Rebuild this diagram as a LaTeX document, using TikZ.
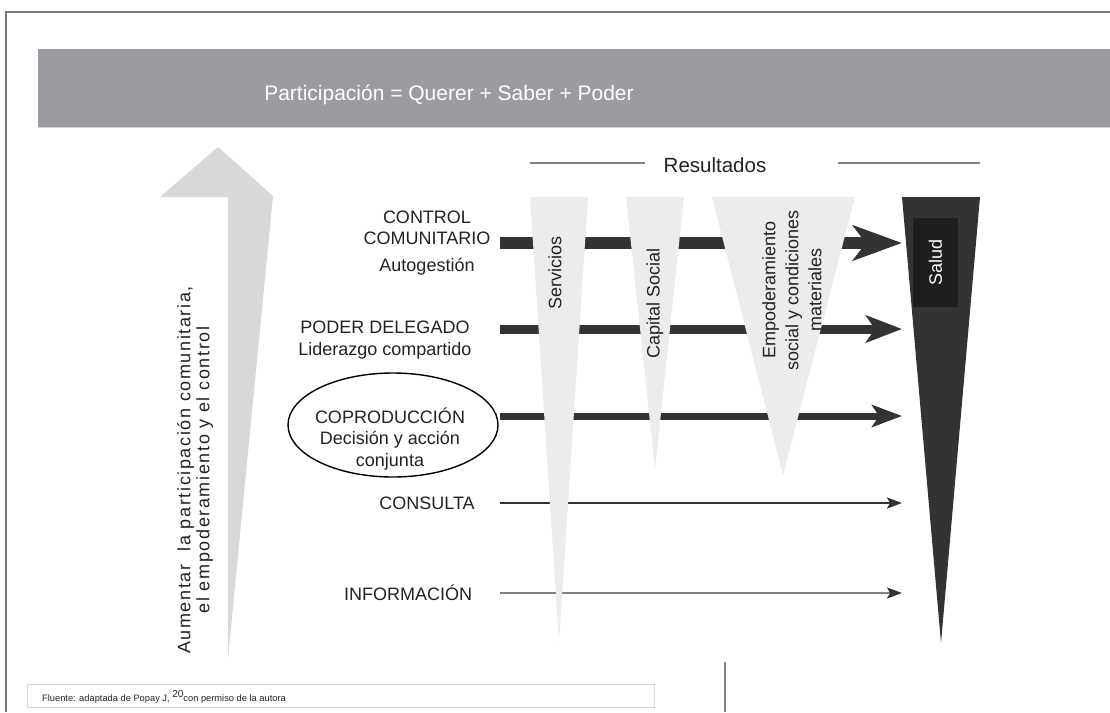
\documentclass[tikz,border=0pt]{standalone}
\usepackage{fontspec}
\setmainfont{Liberation Sans}
\usetikzlibrary{arrows.meta,shapes.geometric}

\definecolor{banner}{HTML}{9B9C9F}
\definecolor{pale}{HTML}{ECECEC}
\definecolor{flecha}{HTML}{D7D8DA}
\definecolor{oscuro}{HTML}{333333}
\definecolor{negro}{HTML}{1E1E1E}
\definecolor{marco}{HTML}{777777}
\definecolor{texto}{HTML}{222222}

\tikzset{
  lbl/.style={font=\fontsize{18}{21.5}\selectfont, align=center, inner sep=0pt, text=texto},
  vlbl/.style={lbl, rotate=90},
  flujo/.style={oscuro, line width=#1}
}

\begin{document}
\begin{tikzpicture}[x=1pt, y=-1pt]
\useasboundingbox (0,0) rectangle (1110,712);
	%% Marco
	\draw[marco, line width=1.3pt] (6,712) -- (6,12) -- (1110,12);
	\fill[banner] (38,49) rectangle (1110,127);
	\draw[gray!35] (38,127) -- (1110,127);
	\node[lbl, text=white, font=\fontsize{21}{24}\selectfont] (titulo) at (449,95) {Participación = Querer + Saber + Poder};
	%%%%%%%%%%%%%%%%

	%% Flecha grande
	\fill[flecha] (218,147) -- (273,196) -- (228,658) -- (228,197) -- (160,197) -- cycle;
	\node[vlbl, font=\fontsize{18}{19}\selectfont\addfontfeature{LetterSpace=9}] (aumentar) at (195,470) {Aumentar~~la participación comunitaria,\\el empoderamiento y el control};

	%% Resultados
	\node[lbl, font=\fontsize{20.5}{24}\selectfont] (result) at (715,165) {Resultados};
	\draw[gray, line width=1.2pt] (530,163) -- (645,163);
	\draw[gray, line width=1.2pt] (838,163) -- (980,163);

	%% Niveles
	\node[lbl] (control) at (427,228) {CONTROL\\COMUNITARIO};
	\node[lbl] (autog) at (427,267) {Autogestión};
	\node[lbl] (poder) at (385,340) {PODER DELEGADO\\Liderazgo compartido};
	\node[ellipse, draw=black, line width=1.4pt, minimum width=210pt, minimum height=104pt] (coprobox) at (393,425) {};
	\node[lbl] (copro) at (390,439) {COPRODUCCIÓN\\Decisión y acción\\conjunta};
	\node[lbl] (consulta) at (427,503) {CONSULTA};
	\node[lbl] (info) at (408,593) {INFORMACIÓN};

	\coordinate (a1) at (500,243); \coordinate (s1) at (902,243);
	\coordinate (a2) at (500,329); \coordinate (s2) at (902,329);
	\coordinate (a3) at (500,416); \coordinate (s3) at (902,416);
	\coordinate (a4) at (500,503); \coordinate (s4) at (902,503);
	\coordinate (a5) at (500,593); \coordinate (s5) at (902,593);
	\draw[flujo=12pt, -{Stealth[length=49pt, width=35pt, inset=13pt]}] (a1) -- (s1);
	\draw[flujo=9pt, -{Stealth[length=36pt, width=27pt, inset=9pt]}] (a2) -- (s2);
	\draw[flujo=7pt, -{Stealth[length=30pt, width=22pt, inset=7pt]}] (a3) -- (s3);
	\draw[flujo=2.3pt, -{Stealth[length=15pt, width=11pt, inset=3pt]}] (a4) -- (s4);
	\draw[gray, line width=1.7pt, -{Stealth[length=15pt, width=11pt, inset=3pt, color=oscuro]}] (a5) -- (s5);

	%% Resultados intermedios
	\fill[pale] (530,197) -- (588,197) -- (559,642) -- cycle;
	\fill[pale] (626,197) -- (684,197) -- (655,469) -- cycle;
	\fill[pale] (712,197) -- (855,197) -- (783,475) -- cycle;
	\node[vlbl] (serv) at (555,273) {Servicios};
	\node[vlbl] (capital) at (655,303) {Capital Social};
	\node[vlbl, font=\fontsize{18}{23}\selectfont] (empod) at (792,290) {Empoderamiento\\social y condiciones\\materiales};

	%% Salud
	\fill[oscuro] (902,197) -- (980,197) -- (941,643) -- cycle;
	\fill[negro] (913,218) rectangle (958,307);
	\node[vlbl, text=white] (salud) at (935.5,262) {Salud};

	%% Fuente
	\draw[gray!30, line width=1pt] (27,684) rectangle (654,707);
	\node[anchor=west, inner sep=0pt, font=\fontsize{9.3}{10}\selectfont, text=texto] (fuente) at (42,697) {Fluente: adaptada de Popay J, \raisebox{4pt}{\fontsize{10}{10}\selectfont 20}con permiso de la autora};
	\draw[gray, line width=1.3pt] (725,662) -- (725,712);

%\draw (current bounding box.south west) rectangle (current bounding box.north east);
\end{tikzpicture}
\end{document}
